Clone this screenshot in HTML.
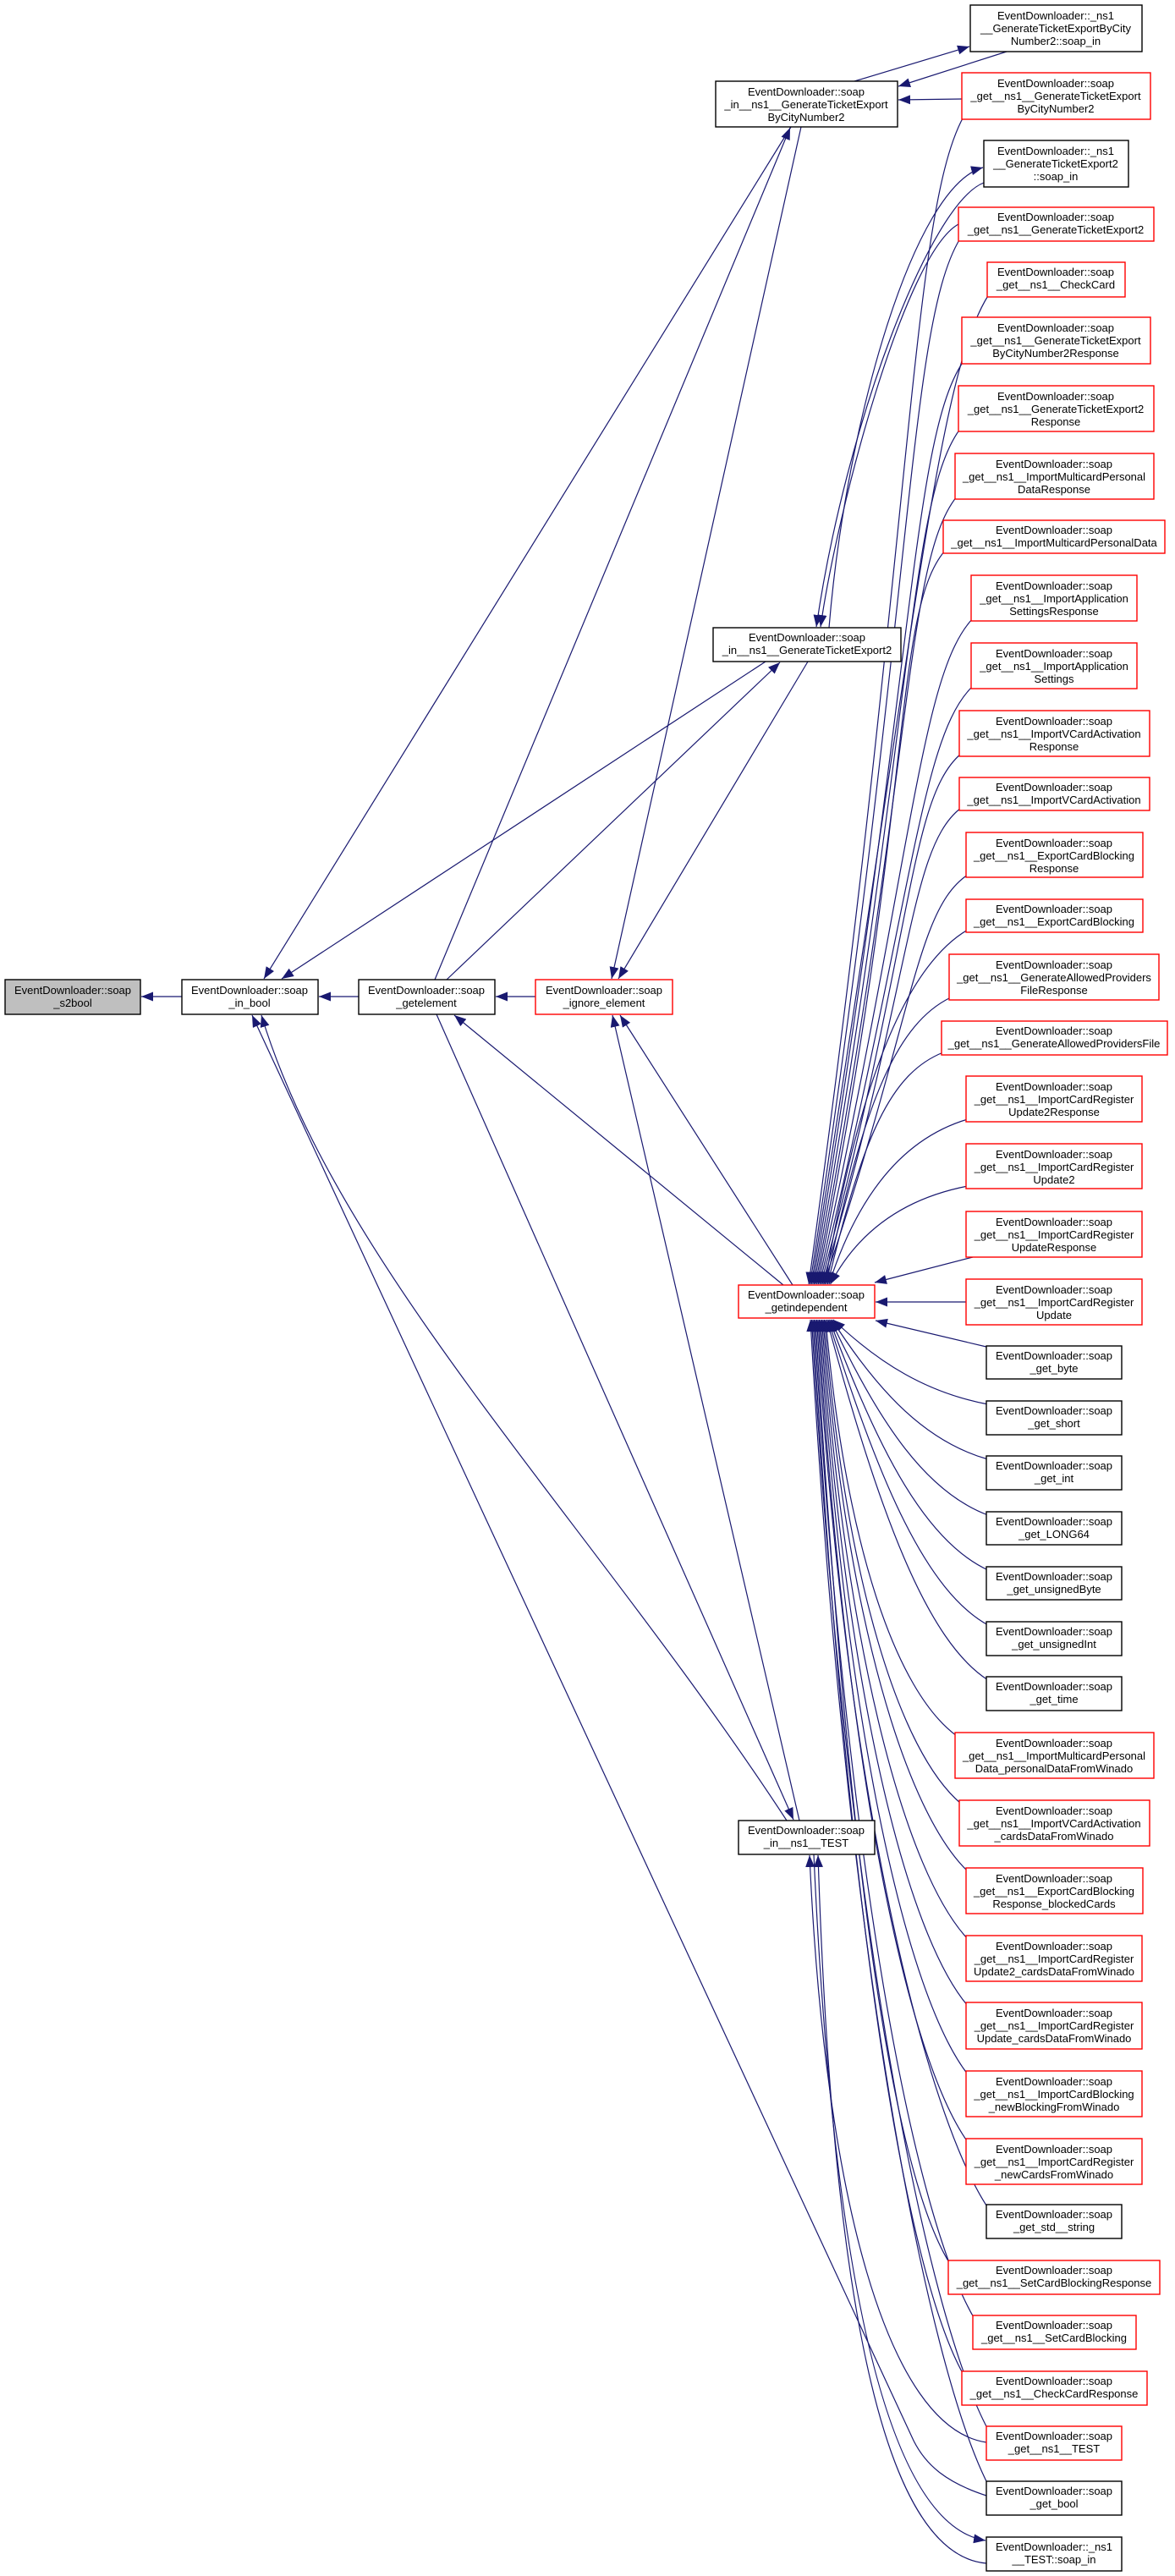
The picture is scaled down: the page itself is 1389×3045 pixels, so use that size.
<!DOCTYPE html>
<html><head><meta charset="utf-8">
<style>
html,body{margin:0;padding:0;background:#fff;}
svg{display:block;}
text{font-family:"Liberation Sans",Arial,sans-serif;font-size:13px;fill:#000;text-anchor:middle;}
</style></head>
<body>
<svg id="s" width="1389" height="3045" viewBox="0 0 1389 3045" xmlns="http://www.w3.org/2000/svg">
<defs>
<marker id="ah" markerUnits="userSpaceOnUse" markerWidth="16" markerHeight="12" refX="14" refY="5.5" orient="auto">
<path d="M0,0 L14,5.5 L0,11 z" fill="#191970"/>
</marker>
</defs>
<g id="edges" fill="none" stroke="#191970" stroke-width="1.2"></g>
<g id="nodes" stroke-width="1.4">
<rect x="6" y="1158" width="160" height="41" fill="#bfbfbf" stroke="#000"/>
<text x="86" y="1175">EventDownloader::soap</text><text x="86" y="1190">_s2bool</text>
<rect x="215" y="1158" width="161" height="41" fill="#fff" stroke="#000"/>
<text x="295" y="1175">EventDownloader::soap</text><text x="295" y="1190">_in_bool</text>
<rect x="424" y="1158" width="161" height="41" fill="#fff" stroke="#000"/>
<text x="504" y="1175">EventDownloader::soap</text><text x="504" y="1190">_getelement</text>
<rect x="633" y="1158" width="162" height="41" fill="#fff" stroke="#f00"/>
<text x="714" y="1175">EventDownloader::soap</text><text x="714" y="1190">_ignore_element</text>
<rect x="873" y="1519" width="161" height="39" fill="#fff" stroke="#f00"/>
<text x="953" y="1535">EventDownloader::soap</text><text x="953" y="1550">_getindependent</text>
<rect x="846" y="96" width="215" height="54" fill="#fff" stroke="#000"/>
<text x="953" y="113">EventDownloader::soap</text><text x="953" y="128">_in__ns1__GenerateTicketExport</text><text x="953" y="143">ByCityNumber2</text>
<rect x="843" y="742" width="222" height="40" fill="#fff" stroke="#000"/>
<text x="954" y="758">EventDownloader::soap</text><text x="954" y="773">_in__ns1__GenerateTicketExport2</text>
<rect x="873" y="2152" width="161" height="40" fill="#fff" stroke="#000"/>
<text x="953" y="2168">EventDownloader::soap</text><text x="953" y="2183">_in__ns1__TEST</text>

<rect x="1147" y="6" width="203" height="55" fill="#fff" stroke="#000"/>
<text x="1248" y="23">EventDownloader::_ns1</text><text x="1248" y="38">__GenerateTicketExportByCity</text><text x="1248" y="53">Number2::soap_in</text>
<rect x="1137" y="86" width="223" height="55" fill="#fff" stroke="#f00"/>
<text x="1248" y="103">EventDownloader::soap</text><text x="1248" y="118">_get__ns1__GenerateTicketExport</text><text x="1248" y="133">ByCityNumber2</text>
<rect x="1163" y="166" width="171" height="55" fill="#fff" stroke="#000"/>
<text x="1248" y="183">EventDownloader::_ns1</text><text x="1248" y="198">__GenerateTicketExport2</text><text x="1248" y="213">::soap_in</text>
<rect x="1133" y="245" width="231" height="40" fill="#fff" stroke="#f00"/>
<text x="1248" y="261">EventDownloader::soap</text><text x="1248" y="276">_get__ns1__GenerateTicketExport2</text>
<rect x="1167" y="310" width="163" height="41" fill="#fff" stroke="#f00"/>
<text x="1248" y="326">EventDownloader::soap</text><text x="1248" y="341">_get__ns1__CheckCard</text>
<rect x="1137" y="375" width="223" height="55" fill="#fff" stroke="#f00"/>
<text x="1248" y="392">EventDownloader::soap</text><text x="1248" y="407">_get__ns1__GenerateTicketExport</text><text x="1248" y="422">ByCityNumber2Response</text>
<rect x="1133" y="456" width="231" height="54" fill="#fff" stroke="#f00"/>
<text x="1248" y="473">EventDownloader::soap</text><text x="1248" y="488">_get__ns1__GenerateTicketExport2</text><text x="1248" y="503">Response</text>
<rect x="1129" y="536" width="235" height="54" fill="#fff" stroke="#f00"/>
<text x="1246" y="553">EventDownloader::soap</text><text x="1246" y="568">_get__ns1__ImportMulticardPersonal</text><text x="1246" y="583">DataResponse</text>
<rect x="1115" y="615" width="262" height="39" fill="#fff" stroke="#f00"/>
<text x="1246" y="631">EventDownloader::soap</text><text x="1246" y="646">_get__ns1__ImportMulticardPersonalData</text>
<rect x="1148" y="680" width="196" height="54" fill="#fff" stroke="#f00"/>
<text x="1246" y="697">EventDownloader::soap</text><text x="1246" y="712">_get__ns1__ImportApplication</text><text x="1246" y="727">SettingsResponse</text>
<rect x="1148" y="760" width="196" height="54" fill="#fff" stroke="#f00"/>
<text x="1246" y="777">EventDownloader::soap</text><text x="1246" y="792">_get__ns1__ImportApplication</text><text x="1246" y="807">Settings</text>
<rect x="1134" y="840" width="225" height="54" fill="#fff" stroke="#f00"/>
<text x="1246" y="857">EventDownloader::soap</text><text x="1246" y="872">_get__ns1__ImportVCardActivation</text><text x="1246" y="887">Response</text>
<rect x="1134" y="919" width="225" height="39" fill="#fff" stroke="#f00"/>
<text x="1246" y="935">EventDownloader::soap</text><text x="1246" y="950">_get__ns1__ImportVCardActivation</text>
<rect x="1142" y="984" width="209" height="53" fill="#fff" stroke="#f00"/>
<text x="1246" y="1001">EventDownloader::soap</text><text x="1246" y="1016">_get__ns1__ExportCardBlocking</text><text x="1246" y="1031">Response</text>
<rect x="1142" y="1063" width="209" height="39" fill="#fff" stroke="#f00"/>
<text x="1246" y="1079">EventDownloader::soap</text><text x="1246" y="1094">_get__ns1__ExportCardBlocking</text>
<rect x="1122" y="1128" width="248" height="54" fill="#fff" stroke="#f00"/>
<text x="1246" y="1145">EventDownloader::soap</text><text x="1246" y="1160">_get__ns1__GenerateAllowedProviders</text><text x="1246" y="1175">FileResponse</text>
<rect x="1113" y="1207" width="267" height="40" fill="#fff" stroke="#f00"/>
<text x="1246" y="1223">EventDownloader::soap</text><text x="1246" y="1238">_get__ns1__GenerateAllowedProvidersFile</text>
<rect x="1142" y="1272" width="208" height="54" fill="#fff" stroke="#f00"/>
<text x="1246" y="1289">EventDownloader::soap</text><text x="1246" y="1304">_get__ns1__ImportCardRegister</text><text x="1246" y="1319">Update2Response</text>
<rect x="1142" y="1352" width="208" height="53" fill="#fff" stroke="#f00"/>
<text x="1246" y="1369">EventDownloader::soap</text><text x="1246" y="1384">_get__ns1__ImportCardRegister</text><text x="1246" y="1399">Update2</text>
<rect x="1142" y="1432" width="208" height="54" fill="#fff" stroke="#f00"/>
<text x="1246" y="1449">EventDownloader::soap</text><text x="1246" y="1464">_get__ns1__ImportCardRegister</text><text x="1246" y="1479">UpdateResponse</text>
<rect x="1142" y="1512" width="208" height="54" fill="#fff" stroke="#f00"/>
<text x="1246" y="1529">EventDownloader::soap</text><text x="1246" y="1544">_get__ns1__ImportCardRegister</text><text x="1246" y="1559">Update</text>
<rect x="1166" y="1591" width="160" height="39" fill="#fff" stroke="#000"/>
<text x="1246" y="1607">EventDownloader::soap</text><text x="1246" y="1622">_get_byte</text>
<rect x="1166" y="1656" width="160" height="40" fill="#fff" stroke="#000"/>
<text x="1246" y="1672">EventDownloader::soap</text><text x="1246" y="1687">_get_short</text>
<rect x="1166" y="1721" width="160" height="40" fill="#fff" stroke="#000"/>
<text x="1246" y="1737">EventDownloader::soap</text><text x="1246" y="1752">_get_int</text>
<rect x="1166" y="1787" width="160" height="39" fill="#fff" stroke="#000"/>
<text x="1246" y="1803">EventDownloader::soap</text><text x="1246" y="1818">_get_LONG64</text>
<rect x="1166" y="1852" width="160" height="39" fill="#fff" stroke="#000"/>
<text x="1246" y="1868">EventDownloader::soap</text><text x="1246" y="1883">_get_unsignedByte</text>
<rect x="1166" y="1917" width="160" height="40" fill="#fff" stroke="#000"/>
<text x="1246" y="1933">EventDownloader::soap</text><text x="1246" y="1948">_get_unsignedInt</text>
<rect x="1166" y="1982" width="160" height="40" fill="#fff" stroke="#000"/>
<text x="1246" y="1998">EventDownloader::soap</text><text x="1246" y="2013">_get_time</text>
<rect x="1129" y="2048" width="235" height="54" fill="#fff" stroke="#f00"/>
<text x="1246" y="2065">EventDownloader::soap</text><text x="1246" y="2080">_get__ns1__ImportMulticardPersonal</text><text x="1246" y="2095">Data_personalDataFromWinado</text>
<rect x="1134" y="2128" width="225" height="54" fill="#fff" stroke="#f00"/>
<text x="1246" y="2145">EventDownloader::soap</text><text x="1246" y="2160">_get__ns1__ImportVCardActivation</text><text x="1246" y="2175">_cardsDataFromWinado</text>
<rect x="1142" y="2208" width="209" height="54" fill="#fff" stroke="#f00"/>
<text x="1246" y="2225">EventDownloader::soap</text><text x="1246" y="2240">_get__ns1__ExportCardBlocking</text><text x="1246" y="2255">Response_blockedCards</text>
<rect x="1142" y="2288" width="208" height="54" fill="#fff" stroke="#f00"/>
<text x="1246" y="2305">EventDownloader::soap</text><text x="1246" y="2320">_get__ns1__ImportCardRegister</text><text x="1246" y="2335">Update2_cardsDataFromWinado</text>
<rect x="1142" y="2367" width="208" height="55" fill="#fff" stroke="#f00"/>
<text x="1246" y="2384">EventDownloader::soap</text><text x="1246" y="2399">_get__ns1__ImportCardRegister</text><text x="1246" y="2414">Update_cardsDataFromWinado</text>
<rect x="1142" y="2448" width="208" height="54" fill="#fff" stroke="#f00"/>
<text x="1246" y="2465">EventDownloader::soap</text><text x="1246" y="2480">_get__ns1__ImportCardBlocking</text><text x="1246" y="2495">_newBlockingFromWinado</text>
<rect x="1142" y="2528" width="208" height="54" fill="#fff" stroke="#f00"/>
<text x="1246" y="2545">EventDownloader::soap</text><text x="1246" y="2560">_get__ns1__ImportCardRegister</text><text x="1246" y="2575">_newCardsFromWinado</text>
<rect x="1166" y="2606" width="160" height="40" fill="#fff" stroke="#000"/>
<text x="1246" y="2622">EventDownloader::soap</text><text x="1246" y="2637">_get_std__string</text>
<rect x="1121" y="2672" width="250" height="40" fill="#fff" stroke="#f00"/>
<text x="1246" y="2688">EventDownloader::soap</text><text x="1246" y="2703">_get__ns1__SetCardBlockingResponse</text>
<rect x="1150" y="2737" width="193" height="40" fill="#fff" stroke="#f00"/>
<text x="1246" y="2753">EventDownloader::soap</text><text x="1246" y="2768">_get__ns1__SetCardBlocking</text>
<rect x="1137" y="2803" width="219" height="40" fill="#fff" stroke="#f00"/>
<text x="1246" y="2819">EventDownloader::soap</text><text x="1246" y="2834">_get__ns1__CheckCardResponse</text>
<rect x="1166" y="2868" width="160" height="40" fill="#fff" stroke="#f00"/>
<text x="1246" y="2884">EventDownloader::soap</text><text x="1246" y="2899">_get__ns1__TEST</text>
<rect x="1166" y="2933" width="160" height="40" fill="#fff" stroke="#000"/>
<text x="1246" y="2949">EventDownloader::soap</text><text x="1246" y="2964">_get_bool</text>
<rect x="1166" y="2999" width="160" height="40" fill="#fff" stroke="#000"/>
<text x="1246" y="3015">EventDownloader::_ns1</text><text x="1246" y="3030">__TEST::soap_in</text>
</g>
</svg>
<script>
(function(){
var g=document.getElementById('edges');
function P(d,arrow){var p=document.createElementNS('http://www.w3.org/2000/svg','path');p.setAttribute('d',d);if(arrow!==false)p.setAttribute('marker-end','url(#ah)');g.appendChild(p);}
P('M215,1178 L167,1178');
P('M424,1178 L377,1178');
P('M633,1178 L586,1178');
P('M937,1519 L733,1200');
P('M926,1519 L537,1200');
P('M935,150 L312,1157');
P('M905,782 L333,1157');
P('M514,1158 L934,151');
P('M528,1158 L922,783');
P('M947,150 L723,1157');
P('M955,782 L731,1157');
P('M516,1199 L938,2151');
P('M930,2152 C700,1800 400,1500 309,1200');
P('M1166,2950 C1120,2935 1095,2915 1080,2885 L298,1200');
P('M945,2152 L724,1200');
P('M1166,2887 C1050,2870 975,2600 957,2193');
P('M962,2192 C985,2700 1050,2985 1165,3003');
P('M1166,3030 C1050,3020 985,2750 967,2193');
P('M1010,96 L1146,55');
P('M1190,61 L1062,102');
P('M1137,117 L1062,118');
P('M980,742 C1000,500 1080,220 1162,198');
P('M1163,216 C1100,240 1000,500 965,741');
P('M1133,265 C1070,300 990,600 970,741');
var up=[[1137,141],[1133,285],[1167,351],[1137,430],[1133,510],[1129,590],[1115,654],[1148,734],[1148,814],[1134,894],[1134,958],[1142,1037],[1142,1102],[1122,1182],[1113,1247],[1142,1326],[1142,1405]];
up.forEach(function(n,i){
 var x=n[0],y=n[1];var ex=956+i*1.6;var dy=1518-y;
 P('M'+(x+2)+','+(y-3)+' C'+(x-60)+','+(y+dy*0.08)+' '+(1000+ (i<12?80:20))+','+(y+dy*0.35)+' '+ex.toFixed(1)+',1518');
});
P('M1150,1486 L1034,1516');
P('M1142,1539 L1035,1539');
P('M1166,1592 L1035,1561');
var dn=[[1166,1656],[1166,1721],[1166,1787],[1166,1852],[1166,1917],[1166,1982],[1129,2048],[1134,2128],[1142,2208],[1142,2288],[1142,2367],[1142,2448],[1142,2528],[1166,2606],[1121,2672],[1150,2737],[1137,2803],[1166,2868],[1166,2933]];
dn.forEach(function(n,i){
 var x=n[0],y=n[1];var ex=985-i*1.5;var dy=y-1559;
 P('M'+(x+2)+','+(y+4)+' C'+(x-70)+','+(y-dy*0.1)+' '+(1010+(i<6?30:-10))+','+(y-dy*0.45)+' '+ex.toFixed(1)+',1560');
});
})();
</script>
</body></html>
